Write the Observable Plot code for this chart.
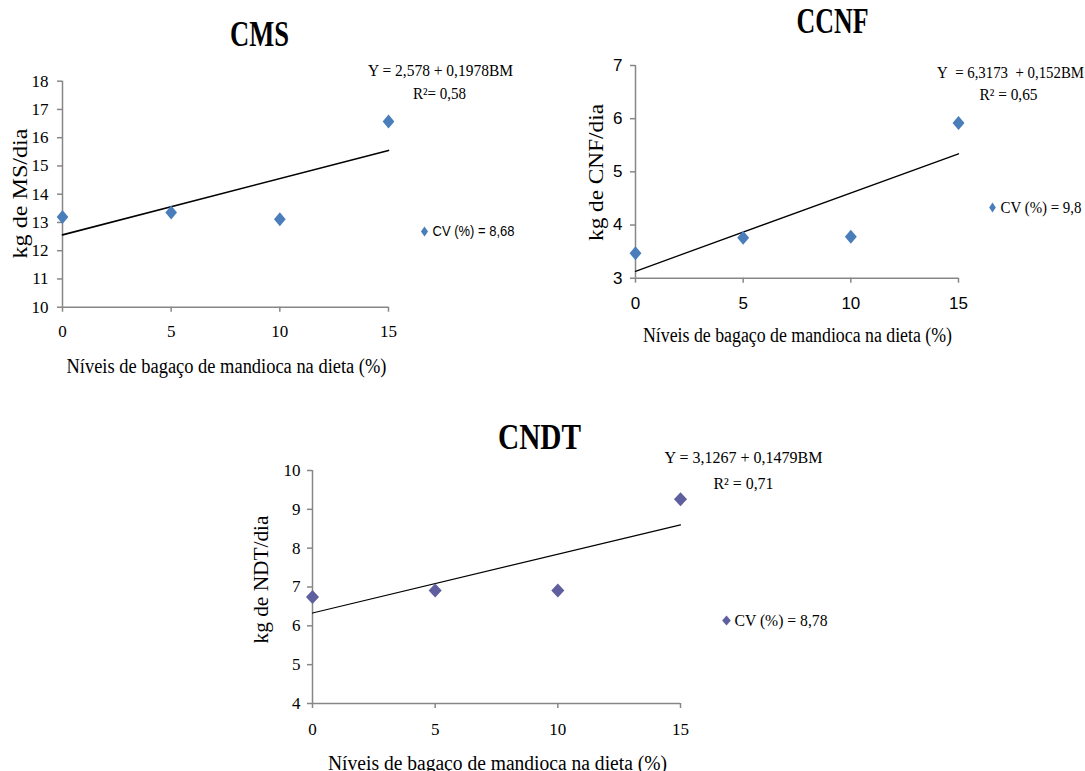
<!DOCTYPE html>
<html>
<head>
<meta charset="utf-8">
<script src="https://cdn.jsdelivr.net/npm/d3@7"></script>
<script src="https://cdn.jsdelivr.net/npm/@observablehq/plot@0.6"></script>
<style>
  html, body { margin: 0; padding: 0; background: #fff; }
  #page { position: relative; width: 1085px; height: 771px; overflow: hidden; background: #fff; }
  .panel { position: absolute; }
  .panel svg { overflow: visible; background: transparent; }
</style>
</head>
<body>
<div id="page">
  <div class="panel" id="cms" style="left:0px;top:0px"></div>
  <div class="panel" id="ccnf" style="left:560px;top:0px"></div>
  <div class="panel" id="cndt" style="left:240px;top:410px"></div>
</div>
<script>
// ---- data ----
const levels = [0, 5, 10, 15];                 // % bagaço de mandioca
const fitLevels = [0, 15];                     // ends of the fitted line
const xTicks = [0, 5, 10, 15];

const cmsValues = [13.19, 13.35, 13.11, 16.57];
const cmsFit = [12.56, 15.55];
const cmsTicks = [10, 11, 12, 13, 14, 15, 16, 17, 18];

const ccnfValues = [3.47, 3.76, 3.78, 5.92];
const ccnfFit = [3.13, 5.34];
const ccnfTicks = [3, 4, 5, 6, 7];

const cndtValues = [6.74, 6.91, 6.91, 9.26];
const cndtFit = [6.33, 8.60];
const cndtTicks = [4, 5, 6, 7, 8, 9, 10];

const titles = ["CMS", "CCNF", "CNDT"];
const equations = ["Y = 2,578 + 0,1978BM", "Y\u00a0 = 6,3173\u00a0 + 0,152BM", "Y = 3,1267 + 0,1479BM"];
const r2Labels = ["R²= 0,58", "R² = 0,65", "R² = 0,71"];
const cvLabels = ["CV (%) = 8,68", "CV (%) = 9,8", "CV (%) = 8,78"];
const yLabels = ["kg de MS/dia", "kg de CNF/dia", "kg de NDT/dia"];
const xLabel = "Níveis de bagaço de mandioca na dieta (%)";

// ---- styling ----
const SERIF = "'Liberation Serif', 'Times New Roman', serif";
const SANS = "'Liberation Sans Narrow', 'Liberation Sans', Arial, sans-serif";
const AXIS = "#878787";

function diamond(aspect) {
  return {
    draw(ctx, size) {
      const h = Math.sqrt(size) * 0.72, w = h * aspect;
      ctx.moveTo(0, -h); ctx.lineTo(w, 0); ctx.lineTo(0, h); ctx.lineTo(-w, 0); ctx.closePath();
    }
  };
}

function panel(cfg) {
  const {width, height, ml, mr, mt, mb} = cfg;
  const pts = levels.map((x, i) => ({x, y: cfg.values[i]}));
  const fit = fitLevels.map((x, i) => ({x, y: cfg.fit[i]}));
  const at = (str, x, y, o) => Plot.text([str], {
    frameAnchor: "top-left", dx: x - ml, dy: y - mt, text: d => d,
    lineAnchor: "middle", textAnchor: "middle", ...o
  });
  const yMin = cfg.yTicks[0];
  const fmt = d => String(d);
  const svg = Plot.plot({
    width, height,
    marginLeft: ml, marginRight: mr, marginTop: mt, marginBottom: mb,
    style: {background: "transparent", color: "black", fontFamily: SERIF},
    x: {domain: [0, 15]},
    y: {domain: [yMin, cfg.yTicks[cfg.yTicks.length - 1]]},
    marks: [
      Plot.ruleX([0], {stroke: AXIS, strokeWidth: 1.5}),
      Plot.ruleY([yMin], {stroke: AXIS, strokeWidth: 1.5}),
      Plot.axisY(cfg.yTicks, {tickSize: 5, tickPadding: cfg.yPad, stroke: AXIS, strokeWidth: 1.5, fill: "black",
        fontSize: cfg.tickFont, fontFamily: cfg.tickFamily, label: null, tickFormat: fmt}),
      Plot.axisX(xTicks, {tickSize: 5, tickPadding: cfg.xPad, stroke: AXIS, strokeWidth: 1.5, fill: "black",
        fontSize: cfg.tickFont, fontFamily: cfg.tickFamily, label: null, tickFormat: fmt}),
      Plot.line(fit, {x: "x", y: "y", stroke: "black", strokeWidth: cfg.lineWidth}),
      Plot.dot(pts, {x: "x", y: "y", symbol: diamond(cfg.aspect), r: 5.5, fill: cfg.color, stroke: "none"}),
      // title
      at(cfg.title, cfg.pos.title[0], cfg.pos.title[1], {fontSize: 36, fontWeight: "bold", fontFamily: SERIF}),
      // equation + R²
      at(cfg.eq, cfg.pos.eq[0], cfg.pos.eq[1], {fontSize: 16, fontFamily: SERIF}),
      at(cfg.r2, cfg.pos.r2[0], cfg.pos.r2[1], {fontSize: 16, fontFamily: SERIF}),
      // legend
      Plot.dot([0], {frameAnchor: "top-left", dx: cfg.pos.leg[0] - ml, dy: cfg.pos.leg[1] - mt,
        symbol: diamond(cfg.legAspect), r: 4, fill: cfg.color, stroke: "none"}),
      at(cfg.cv, cfg.pos.leg[0] + 8, cfg.pos.leg[1], {fontSize: cfg.legFont, fontFamily: cfg.legFamily, textAnchor: "start"}),
      // axis titles
      at(cfg.yLabel, cfg.pos.yl[0], cfg.pos.yl[1], {fontSize: 20, fontFamily: SERIF, rotate: -90}),
      at(xLabel, cfg.pos.xl[0], cfg.pos.xl[1], {fontSize: 20, fontFamily: SERIF})
    ]
  });
  // horizontally condensed lettering as in the reference
  d3.select(svg).selectAll("text").each(function() {
    const w = cfg.widths[this.textContent];
    if (w) { this.setAttribute("textLength", w); this.setAttribute("lengthAdjust", "spacingAndGlyphs"); }
  });
  return svg;
}

document.getElementById("cms").appendChild(panel({
  width: 530, height: 390, ml: 62, mr: 142, mt: 80.7, mb: 83.3,
  values: cmsValues, fit: cmsFit, yTicks: cmsTicks, color: "#4a7ebb", aspect: 0.83, legAspect: 0.7,
  tickFont: 17, tickFamily: SERIF, yPad: 9, xPad: 13, lineWidth: 1.6,
  legFont: 15, legFamily: SANS,
  title: titles[0], eq: equations[0], r2: r2Labels[0], cv: cvLabels[0], yLabel: yLabels[0],
  pos: {title: [259, 34], eq: [440, 70], r2: [439, 93], leg: [424, 231], yl: [20, 193], xl: [226, 366]},
  widths: {"CMS": 59, [equations[0]]: 145, [r2Labels[0]]: 53, [cvLabels[0]]: 82, [xLabel]: 320, [yLabels[0]]: 130}
}));

document.getElementById("ccnf").appendChild(panel({
  width: 525, height: 360, ml: 75, mr: 127, mt: 65, mb: 82.3,
  values: ccnfValues, fit: ccnfFit, yTicks: ccnfTicks, color: "#4a7ebb", aspect: 0.85, legAspect: 0.65,
  tickFont: 17, tickFamily: SANS, yPad: 8, xPad: 14, lineWidth: 1.3,
  legFont: 16, legFamily: SERIF,
  title: titles[1], eq: equations[1], r2: r2Labels[1], cv: cvLabels[1], yLabel: yLabels[1],
  pos: {title: [272, 21], eq: [450, 72], r2: [448, 94], leg: [432, 207], yl: [36, 172], xl: [237, 335]},
  widths: {"CCNF": 72, [equations[1]]: 147, [r2Labels[1]]: 58, [cvLabels[1]]: 81, [xLabel]: 309, [yLabels[1]]: 137}
}));

document.getElementById("cndt").appendChild(panel({
  width: 620, height: 361, ml: 72, mr: 180, mt: 60, mb: 68,
  values: cndtValues, fit: cndtFit, yTicks: cndtTicks, color: "#5f5f9f", aspect: 0.93, legAspect: 0.85,
  tickFont: 17, tickFamily: SERIF, yPad: 7, xPad: 14, lineWidth: 1.2,
  legFont: 16, legFamily: SERIF,
  title: titles[2], eq: equations[2], r2: r2Labels[2], cv: cvLabels[2], yLabel: yLabels[2],
  pos: {title: [299, 27], eq: [503, 47], r2: [503, 73], leg: [486, 210], yl: [21, 169], xl: [257, 353]},
  widths: {"CNDT": 83, [equations[2]]: 158, [r2Labels[2]]: 60, [cvLabels[2]]: 93, [xLabel]: 339, [yLabels[2]]: 128}
}));
</script>
</body>
</html>
